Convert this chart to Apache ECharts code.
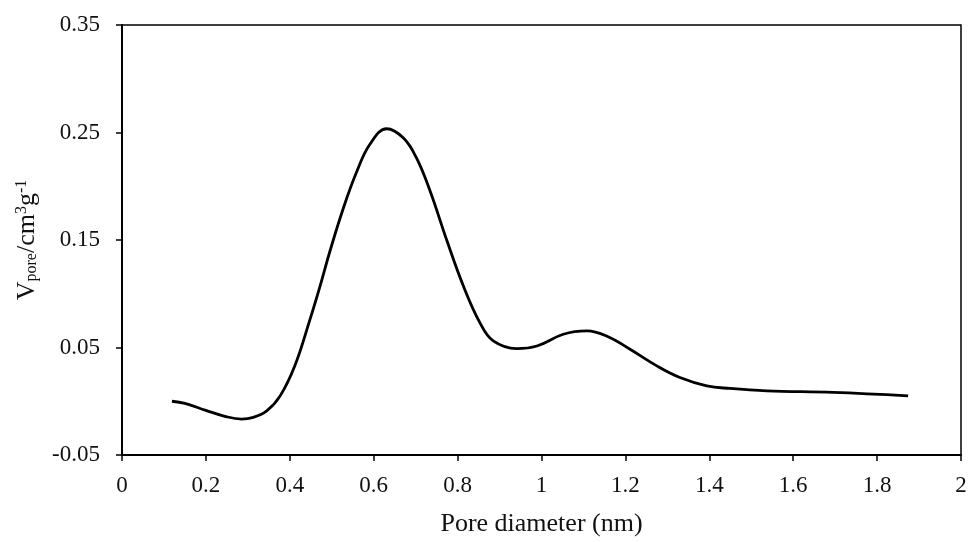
<!DOCTYPE html>
<html>
<head>
<meta charset="utf-8">
<script src="https://cdn.jsdelivr.net/npm/echarts@6/dist/echarts.min.js"></script>
<style>html,body{margin:0;padding:0;background:#fff}#c{width:971px;height:542px}</style>
</head>
<body>
<div id="c"></div>
<script>
const poreDiameter = [0.119, 0.15, 0.2, 0.245, 0.285, 0.313, 0.345, 0.377, 0.412, 0.448, 0.472, 0.496, 0.528, 0.559, 0.591, 0.631, 0.671, 0.702, 0.734, 0.774, 0.814, 0.853, 0.885, 0.941, 0.989, 1.052, 1.108, 1.155, 1.211, 1.275, 1.330, 1.394, 1.449, 1.537, 1.695, 1.874];
const poreVolume = [0.000, -0.002, -0.0085, -0.014, -0.0166, -0.015, -0.009, 0.005, 0.033, 0.076, 0.107, 0.140, 0.180, 0.213, 0.239, 0.2535, 0.2448, 0.2263, 0.196, 0.150, 0.107, 0.0732, 0.0561, 0.0490, 0.0514, 0.0623, 0.0654, 0.0607, 0.0484, 0.0329, 0.0221, 0.0143, 0.0119, 0.0097, 0.0082, 0.0050];
const yTicks = [-0.05, 0.05, 0.15, 0.25, 0.35];
const xTicks = [0, 0.2, 0.4, 0.6, 0.8, 1, 1.2, 1.4, 1.6, 1.8, 2];

const chart = echarts.init(document.getElementById('c'));
const font = 'Liberation Serif';
chart.setOption({
  animation: false,
  grid: { left: 122, right: 10, top: 25, bottom: 86, show: true, borderColor: '#000', borderWidth: 1.5, backgroundColor: 'transparent' },
  xAxis: {
    type: 'value', min: xTicks[0], max: xTicks[xTicks.length - 1], interval: 0.2,
    name: 'Pore diameter (nm)', nameLocation: 'middle', nameGap: 56,
    nameTextStyle: { fontFamily: font, fontSize: 26, color: '#111' },
    axisLine: { show: true, onZero: false, lineStyle: { color: '#000', width: 2 } },
    axisTick: { show: true, inside: false, length: 6, lineStyle: { color: '#000', width: 1.5 } },
    axisLabel: { fontFamily: font, fontSize: 23, color: '#111', margin: 19,
      formatter: v => String(Math.round(v * 10) / 10) },
    splitLine: { show: false }
  },
  yAxis: {
    type: 'value', min: yTicks[0], max: yTicks[yTicks.length - 1], interval: 0.1,
    name: '{n|V}{sub|pore}{n|/cm}{sup|3}{n|g}{sup|-1}', nameLocation: 'middle', nameGap: 82, nameRotate: 90,
    nameTextStyle: {
      fontFamily: font, fontSize: 26, color: '#111',
      rich: {
        n: { fontFamily: font, fontSize: 26, color: '#111' },
        sub: { fontFamily: font, fontSize: 16, color: '#111', verticalAlign: 'bottom', padding: [10, 0, 0, 0] },
        sup: { fontFamily: font, fontSize: 16, color: '#111', verticalAlign: 'top', padding: [0, 0, 10, 0] }
      }
    },
    axisLine: { show: true, onZero: false, lineStyle: { color: '#000', width: 2 } },
    axisTick: { show: true, inside: false, length: 6, lineStyle: { color: '#000', width: 1.5 } },
    axisLabel: { fontFamily: font, fontSize: 23, color: '#111', margin: 22,
      formatter: v => (Math.round(v * 100) / 100).toFixed(2) },
    splitLine: { show: false }
  },
  series: [{
    type: 'line',
    data: poreDiameter.map((x, i) => [x, poreVolume[i]]),
    smooth: 0.4,
    showSymbol: false,
    lineStyle: { color: '#000', width: 2.8 }
  }]
});
</script>
</body>
</html>
